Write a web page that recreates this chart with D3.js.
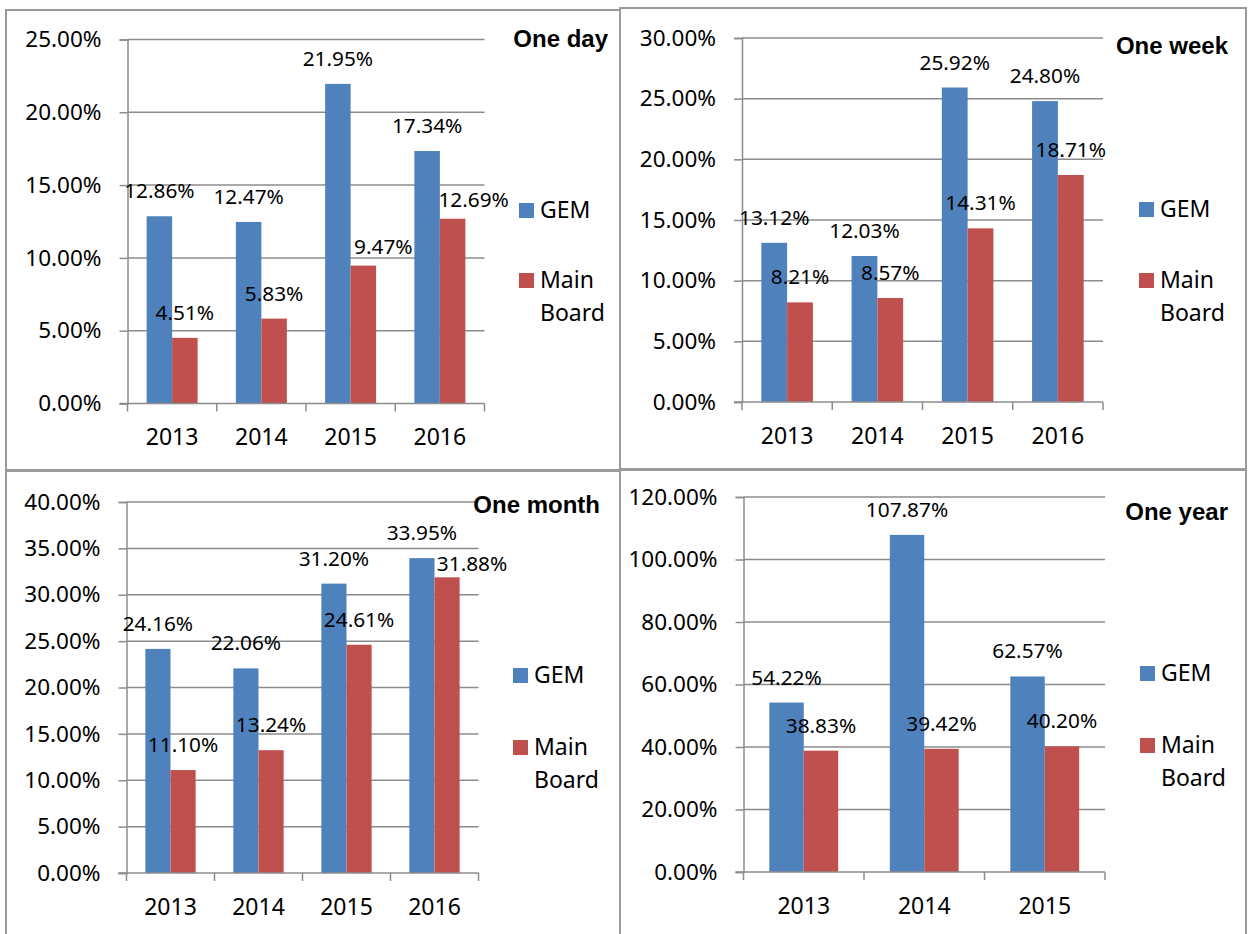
<!DOCTYPE html>
<html>
<head>
<meta charset="utf-8">
<script src="https://cdn.jsdelivr.net/npm/d3@7"></script>
<style>
  body { margin: 0; background: #fff; }
  svg { display: block; }
  text { font-family: 'Noto Sans', sans-serif; fill: #000; }
  text.title { font-family: 'Liberation Sans', Arial, sans-serif; font-weight: bold; }
</style>
</head>
<body>
<svg id="chart" width="1251" height="934"></svg>
<script>
'use strict';

// categories
const years4 = ['2013', '2014', '2015', '2016'];
const years3 = ['2013', '2014', '2015'];
const seriesNames = ['GEM', 'Main Board'];

// values in percent
const dayGEM = [12.86, 12.47, 21.95, 17.34];
const dayMain = [4.51, 5.83, 9.47, 12.69];
const weekGEM = [13.12, 12.03, 25.92, 24.80];
const weekMain = [8.21, 8.57, 14.31, 18.71];
const monthGEM = [24.16, 22.06, 31.20, 33.95];
const monthMain = [11.10, 13.24, 24.61, 31.88];
const yearGEM = [54.22, 107.87, 62.57];
const yearMain = [38.83, 39.42, 40.20];

// y tick values
const dayTicks = [0, 5, 10, 15, 20, 25];
const weekTicks = [0, 5, 10, 15, 20, 25, 30];
const monthTicks = [0, 5, 10, 15, 20, 25, 30, 35, 40];
const yearTicks = [0, 20, 40, 60, 80, 100, 120];

const colors = { GEM: '#4f81bd', Main: '#c0504d' };
const gridColor = '#8c8c8c';
const borderColor = '#9a9a9a';

// layout of the four panels (positions only)
const panels = [
  {
    title: 'One day', cats: years4, gem: dayGEM, main: dayMain, ticks: dayTicks,
    box: [6, 10, 620, 470], plot: [127.5, 484.5, 39.5, 403.5],
    titleX: 608, titleY: 47, legend: [519, 203, 273],
    nudge: { main: { 2: [20, 6], 3: [21, 6] } }
  },
  {
    title: 'One week', cats: years4, gem: weekGEM, main: weekMain, ticks: weekTicks,
    box: [620, 8, 1246, 469], plot: [742, 1103, 38, 402],
    titleX: 1228, titleY: 54, legend: [1139, 202, 273],
    nudge: {}
  },
  {
    title: 'One month', cats: years4, gem: monthGEM, main: monthMain, ticks: monthTicks,
    box: [6, 471, 620, 945], plot: [126.5, 478.5, 502, 873],
    titleX: 600, titleY: 513, legend: [513, 668, 740],
    nudge: { main: { 3: [25, 12] } }
  },
  {
    title: 'One year', cats: years3, gem: yearGEM, main: yearMain, ticks: yearTicks,
    box: [620, 470, 1246, 945], plot: [743.5, 1105, 497, 872],
    titleX: 1228, titleY: 520, legend: [1140, 666, 738],
    nudge: {}
  }
];

const svg = d3.select('#chart');

panels.forEach(function(p) {
  const g = svg.append('g');
  const [left, right, top, bottom] = p.plot;

  // panel frame
  g.append('rect')
    .attr('x', p.box[0])
    .attr('y', p.box[1])
    .attr('width', p.box[2] - p.box[0])
    .attr('height', p.box[3] - p.box[1])
    .attr('fill', 'none')
    .attr('stroke', borderColor)
    .attr('stroke-width', 2);

  const x = d3.scaleBand().domain(p.cats).range([left, right]).padding(0);
  const xs = d3.scaleBand()
    .domain(['GEM', 'Main'])
    .range([0, x.bandwidth()])
    .paddingInner(0)
    .paddingOuter(0.75);
  const y = d3.scaleLinear()
    .domain([0, d3.max(p.ticks)])
    .range([bottom, top]);

  // gridlines
  g.append('g')
    .selectAll('line')
    .data(p.ticks.filter(t => t > 0))
    .join('line')
    .attr('x1', left)
    .attr('x2', right)
    .attr('y1', d => y(d))
    .attr('y2', d => y(d))
    .attr('stroke', gridColor)
    .attr('stroke-width', 1.5);

  // y axis
  const yAxis = d3.axisLeft(y)
    .tickValues(p.ticks)
    .tickFormat(d => d.toFixed(2) + '%')
    .tickSize(8)
    .tickPadding(18);
  const ya = g.append('g')
    .attr('transform', 'translate(' + left + ',0)')
    .call(yAxis);
  ya.select('.domain').attr('stroke', gridColor).attr('stroke-width', 1.5);
  ya.selectAll('.tick line').attr('stroke', gridColor).attr('stroke-width', 1.5);
  ya.selectAll('.tick text')
    .attr('font-size', 22.5)
    .attr('fill', '#000');

  // bars
  const rows = [];
  p.cats.forEach(function(c, i) {
    rows.push({ cat: c, key: 'GEM', value: p.gem[i], i: i });
    rows.push({ cat: c, key: 'Main', value: p.main[i], i: i });
  });

  g.append('g')
    .selectAll('rect')
    .data(rows)
    .join('rect')
    .attr('x', d => x(d.cat) + xs(d.key))
    .attr('y', d => y(d.value))
    .attr('width', xs.bandwidth())
    .attr('height', d => y(0) - y(d.value))
    .attr('fill', d => colors[d.key]);

  // x axis line and ticks between categories
  g.append('line')
    .attr('x1', left - 8)
    .attr('x2', right)
    .attr('y1', bottom)
    .attr('y2', bottom)
    .attr('stroke', gridColor)
    .attr('stroke-width', 1.5);
  const bounds = p.cats.map(c => x(c)).concat([right]);
  g.append('g')
    .selectAll('line')
    .data(bounds)
    .join('line')
    .attr('x1', d => d)
    .attr('x2', d => d)
    .attr('y1', bottom)
    .attr('y2', bottom + 8)
    .attr('stroke', gridColor)
    .attr('stroke-width', 1.5);

  g.append('g')
    .selectAll('text')
    .data(p.cats)
    .join('text')
    .attr('x', d => x(d) + x.bandwidth() / 2)
    .attr('y', bottom + 41.5)
    .attr('text-anchor', 'middle')
    .attr('font-size', 23)
    .text(d => d);

  // data labels
  g.append('g')
    .selectAll('text')
    .data(rows)
    .join('text')
    .attr('x', function(d) {
      const n = (p.nudge[d.key.toLowerCase()] || {})[d.i];
      return x(d.cat) + xs(d.key) + xs.bandwidth() / 2 + (n ? n[0] : 0);
    })
    .attr('y', function(d) {
      const n = (p.nudge[d.key.toLowerCase()] || {})[d.i];
      return y(d.value) - 18 + (n ? n[1] : 0);
    })
    .attr('text-anchor', 'middle')
    .attr('font-size', 20.8)
    .text(d => d.value.toFixed(2) + '%');

  // title
  g.append('text')
    .attr('class', 'title')
    .attr('x', p.titleX)
    .attr('y', p.titleY)
    .attr('text-anchor', 'end')
    .attr('font-size', 24)
    .text(p.title);

  // legend
  const [lx, gy, my] = p.legend;
  g.append('rect').attr('x', lx).attr('y', gy).attr('width', 15).attr('height', 15)
    .attr('fill', colors.GEM);
  g.append('text').attr('x', lx + 21).attr('y', gy + 15).attr('font-size', 23)
    .text(seriesNames[0]);
  g.append('rect').attr('x', lx).attr('y', my).attr('width', 15).attr('height', 15)
    .attr('fill', colors.Main);
  const mainWords = seriesNames[1].split(' ');
  g.append('text').attr('x', lx + 21).attr('y', my + 15).attr('font-size', 23)
    .text(mainWords[0]);
  g.append('text').attr('x', lx + 21).attr('y', my + 48).attr('font-size', 23)
    .text(mainWords[1]);
});
</script>
</body>
</html>
